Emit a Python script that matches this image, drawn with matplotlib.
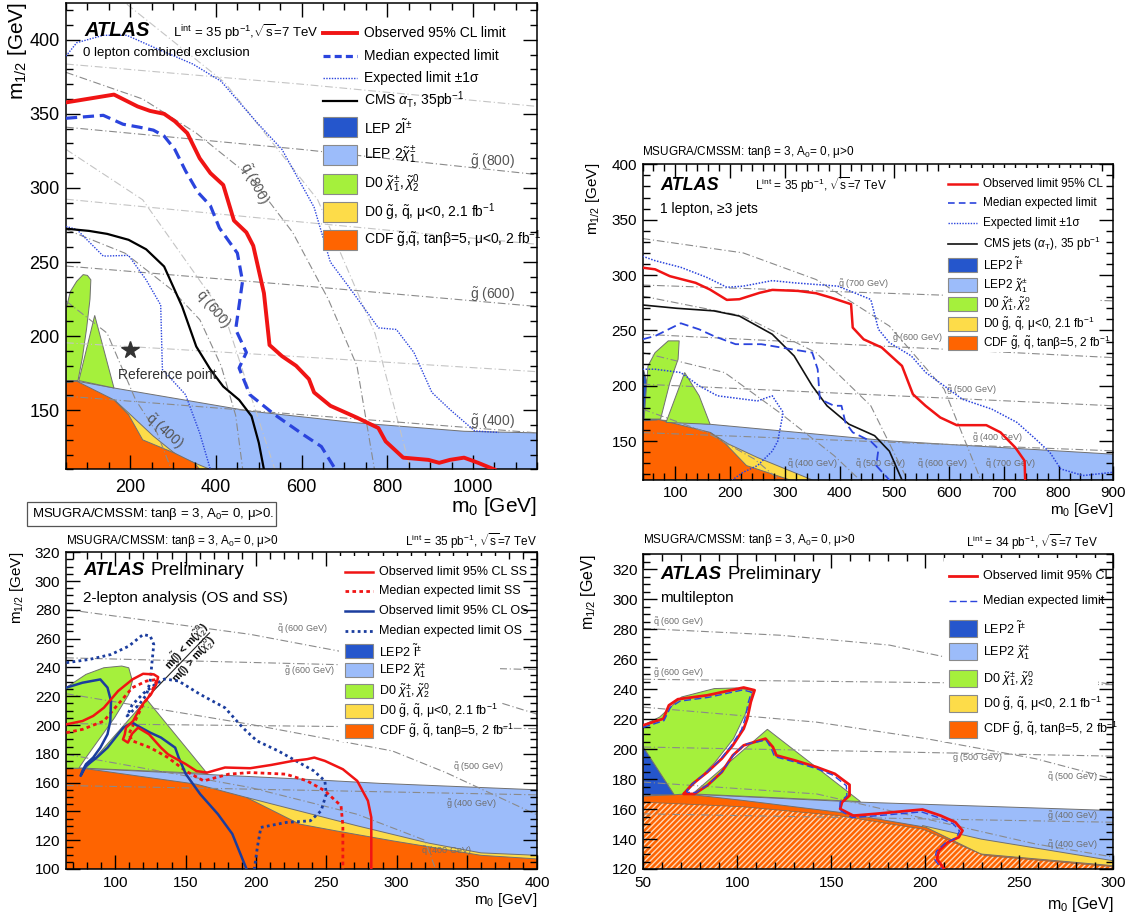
import matplotlib
matplotlib.use('Agg')
import matplotlib.pyplot as plt
from matplotlib.lines import Line2D
from matplotlib.patches import Rectangle
from matplotlib.ticker import MultipleLocator

plt.rcParams['font.family'] = ['Liberation Sans', 'DejaVu Sans']
plt.rcParams['mathtext.fontset'] = 'custom'
plt.rcParams['mathtext.rm'] = 'Liberation Sans'
plt.rcParams['mathtext.it'] = 'Liberation Sans:italic'
plt.rcParams['mathtext.bf'] = 'Liberation Sans:bold'
plt.rcParams['mathtext.sf'] = 'Liberation Sans'
plt.rcParams['hatch.linewidth'] = 1.0

RED = '#f01414'
BLUE = '#2b44dd'
NAVY = '#1b3d9e'
SLEP = '#2556cc'
CHARG = '#9cbcfa'
GREEN = '#a5f03c'
YELLOW = '#fddc49'
ORANGE = '#fe6401'
ISO = '#8a8a8a'
ISO_LIGHT = '#c4c4c4'

# ---------------- 0 lepton (m0, m1/2) ----------------
p1_obs_m0 = [50, 162, 217, 246, 279, 304, 333, 362, 387, 417, 442, 471, 487, 512, 525, 554, 587, 617, 629,
             667, 729, 779, 796, 837, 896, 921, 946, 979, 1012, 1050]
p1_obs_m12 = [357.7, 363, 355, 352, 350, 345, 337, 320, 310, 302, 278, 270, 261, 229, 194, 186.5, 180, 171, 162,
              153, 145, 138, 129, 118, 116.5, 114.5, 116.5, 118, 114.5, 110]
p1_exp_m0 = [50, 137, 183, 221, 254, 279, 304, 329, 358, 387, 408, 450, 462, 446, 471, 454, 479, 537, 604, 646, 679]
p1_exp_m12 = [347, 349, 343, 341, 339, 335, 326, 311.5, 297, 288, 273, 256, 237, 204.5, 189, 178.5, 160.5, 147,
              133.5, 125.5, 110]
p1_up_m0 = [50, 75, 137, 192, 254, 346, 412, 496, 554, 629, 667, 721, 779, 821, 862, 904, 946, 1004, 1060]
p1_up_m12 = [389, 398, 403, 403, 395, 383.6, 372, 344, 326, 287, 250, 229, 205.6, 204.5, 189, 162, 150.5, 136, 135]
p1_dn_m0 = [50, 75, 137, 196, 237, 271, 275, 329, 362, 387]
p1_dn_m12 = [274, 272, 254, 254.5, 238, 221, 177.5, 160.5, 134.7, 110]
p1_cms_m0 = [50, 104, 146, 196, 237, 279, 321, 354, 387, 417, 454, 483, 500, 512]
p1_cms_m12 = [272.5, 271, 269, 265, 258.6, 247, 220, 193, 177.5, 166, 157, 146, 128, 110]

p1_lep_m0 = [50, 75, 162, 479, 729, 979, 1150]
p1_lep_m12 = [170, 169.6, 165, 149.4, 141.5, 135.8, 134.7]
p1_d0gq_m0 = [162, 196, 254, 312, 387]
p1_d0gq_m12 = [157.2, 148.2, 132.5, 119, 110]
p1_cdf_m0 = [50, 75, 162, 196, 229, 304, 350, 362]
p1_cdf_m12 = [168.5, 169.6, 157, 147, 130, 121, 114.4, 110]
p1_slep_m0 = [50, 68, 50]
p1_slep_m12 = [205, 170, 170]
p1_d0a_m0 = [50, 50, 60, 75, 90, 100, 108, 106, 98, 88, 78]
p1_d0a_m12 = [170, 218, 230, 237, 241.5, 241, 238, 225, 205, 185, 170]
p1_d0b_m0 = [80, 117, 162]
p1_d0b_m12 = [170, 214, 165]

p1_gl_m0 = [50, 600, 1150]
p1_gl800 = [341, 326, 309]
p1_gl600 = [247.3, 234, 220]
p1_gl400 = [159.5, 147, 134.7]
p1_light_h1 = [383.6, 370, 355]
p1_light_h2 = [292.4, 277, 262]
p1_light_h3 = [195.5, 186, 176]
p1_sq800_m0 = [50, 229, 354, 479, 579, 662, 729, 770]
p1_sq800_m12 = [378, 360, 337, 308, 270, 225, 180, 110]
p1_sq600_m0 = [50, 187.5, 296, 362.5, 412, 446, 462.5]
p1_sq600_m12 = [272, 256, 231.5, 211, 180, 146.5, 110]
p1_sq400_m0 = [50, 146, 212.5, 262.5, 296]
p1_sq400_m12 = [223.7, 202, 157, 134.7, 110]
p1_sqa_m0 = [192, 421, 637.5, 771, 854]
p1_sqa_m12 = [424, 371, 292, 202, 110]
p1_sqb_m0 = [50, 229, 421, 537.5]
p1_sqb_m12 = [326, 292, 213.5, 110]
p1_ref = (200, 190.5)

# ---------------- 1 lepton ----------------
p2_obs_m0 = [40, 63, 90, 137, 163, 194, 217, 254, 277, 324, 357, 384, 421, 424, 444, 477, 514, 534, 557, 584,
             614, 668, 694, 721, 738, 739]
p2_obs_m12 = [306.7, 305.2, 299, 293, 287, 277.6, 278.2, 284, 286.6, 285.7, 283.6, 279.7, 273.7, 252.6, 242,
              234.6, 218, 192.4, 182, 171.4, 164.5, 164.5, 158, 144.3, 132.3, 115]
p2_exp_m0 = [40, 63, 110, 143.5, 170, 210, 257, 304, 350, 360, 364, 390, 403.5, 410.6, 424, 457, 471, 467, 491]
p2_exp_m12 = [242, 245, 256.5, 251, 245, 237.6, 237.6, 233.7, 230, 215, 188, 182, 182, 167, 158, 150, 143, 128, 115]
p2_up_m0 = [40, 63, 110, 157, 194, 224, 277, 317, 397, 457, 471, 491, 531, 557.5, 591, 624, 678, 724, 758, 784,
            804, 844.5, 900]
p2_up_m12 = [317, 313, 307, 298, 289, 290, 295, 293, 290, 278, 251, 239, 227, 212, 200, 188, 179, 167, 152, 140,
             125, 119, 122]
p2_dn_m0 = [40, 63, 110, 143.5, 177, 250, 277, 297, 287, 277, 250, 224, 204]
p2_dn_m12 = [215, 215, 212, 200, 191, 186.4, 191, 176, 150, 141, 128, 122, 115]
p2_cms_m0 = [40, 103, 170, 217, 277, 317, 350, 377, 417, 464, 491, 514]
p2_cms_m12 = [273, 270, 267.7, 263, 246.6, 227, 200, 182, 165.4, 155, 141, 115]

p2_lep_m0 = [40, 70, 163.5, 491, 900]
p2_lep_m12 = [169, 169.3, 165.3, 150.3, 138.3]
p2_d0gq_m0 = [163.5, 197, 250, 350.5]
p2_d0gq_m12 = [158, 147.5, 135.3, 115]
p2_cdf_m0 = [40, 70, 163.5, 190, 230, 310]
p2_cdf_m12 = [168.4, 169.5, 158, 148.5, 128, 115]
p2_slep_m0 = [40, 66.7, 40]
p2_slep_m12 = [218, 169.3, 169.3]
p2_d0a_m0 = [43, 50, 63, 87, 107, 105, 90, 73]
p2_d0a_m12 = [170, 218, 230, 240.6, 240.6, 224, 203, 170]
p2_d0b_m0 = [83, 117, 143.5, 163.5]
p2_d0b_m12 = [167, 212, 191, 165.3]

p2_gl_m0 = [40, 900]
p2_gl700 = [291, 276.7]
p2_gl600 = [246.6, 225.5]
p2_gl500 = [201.5, 182]
p2_gl400 = [157.8, 141.3]
p2_sq700_m0 = [40, 224, 357, 491, 591, 658]
p2_sq700_m12 = [333, 320, 296, 254, 197, 115]
p2_sq600_m0 = [40, 224, 357, 457, 524]
p2_sq600_m12 = [281, 263, 230, 182, 115]
p2_sq500_m0 = [40, 190, 290, 390, 437]
p2_sq500_m12 = [230, 212, 176, 137, 115]
p2_sq400_m0 = [40, 157, 244, 290]
p2_sq400_m12 = [179, 158, 134, 115]

# ---------------- 2 lepton ----------------
p3_ss_obs_m0 = [65.3, 76.7, 84.3, 91.9, 102, 112.2, 119.8, 127.4, 130.5, 129.2, 125.4, 120.3, 116.5, 112.7, 110.2,
                107.6, 106.8, 105.5, 109, 112, 116.2, 124, 132.5, 137.5, 150.2, 157.8, 165.4, 178, 195.9, 211,
                226.2, 236.4, 241.5, 249, 261.8, 272, 279.6, 282, 282]
p3_ss_obs_m12 = [200.5, 202.8, 206.3, 212, 223.6, 231.7, 235.6, 235.2, 233.3, 228.3, 221.3, 215.5, 209.8, 202.8,
                 200.5, 198.2, 193.6, 190, 187.8, 194, 198.2, 193.6, 184.3, 179.7, 172.8, 168, 167, 170.5, 170,
                 172.3, 175.1, 176.3, 177.4, 175.1, 169.3, 161.2, 147.4, 135.8, 100]
p3_ss_exp_m0 = [65.3, 76.7, 91.9, 102, 112.2, 122.3, 129.9, 124.9, 119.8, 109.6, 112.2, 124.9, 137.5, 150.2,
                162.9, 180.6, 195.9, 221.2, 236.4, 249, 260.5, 261.8, 261.8]
p3_ss_exp_m12 = [194.7, 197, 202.8, 214.4, 226, 230.6, 231.7, 221.3, 214.4, 193.6, 189, 184.3, 177.4, 168, 161.2,
                 165.9, 167, 165.9, 161.2, 154.3, 143.9, 130, 100]
p3_os_obs_m0 = [65.3, 76.7, 89.4, 94.5, 97, 96.5, 94.5, 89.4, 84.3, 79.2, 76.7, 75.4, 79.2, 86.8, 94.5, 102,
                105.8, 112.2, 116, 124.9, 132.5, 142.6, 145.1, 150.2, 160.4, 173, 183.2, 193.3]
p3_os_obs_m12 = [226, 229.4, 231.7, 226, 216.7, 202.8, 193.6, 184.3, 177.4, 172.8, 168.2, 164.7, 171.6, 177.4,
                 184.3, 193.6, 198.2, 201.7, 199.4, 194.7, 191.3, 184.3, 177.4, 165.9, 152, 138.1, 124.4, 100]
p3_os_exp_m0 = [65.3, 81.7, 96.9, 109.6, 119.8, 124.9, 127.4, 126.2, 124.9, 122.3, 117.2, 112.2, 108.4, 112, 120,
                128, 135, 145, 160.4, 178, 190.6, 200.7, 215.9, 228.5, 241.1, 249, 250, 246.3, 238.7, 221.2,
                203.5, 201, 198.9]
p3_os_exp_m12 = [243.3, 245.6, 249, 254.8, 262.9, 261.8, 256, 244.4, 230.6, 221.3, 214.4, 209.8, 206.3, 214, 222,
                 228, 232, 230.6, 221.3, 212, 198.2, 189, 182, 175.1, 168.2, 161.2, 152, 140.4, 133.5, 132.3,
                 128.9, 115, 100]
p3_div_m0 = [123.5, 167]
p3_div_m12 = [220, 264]

p3_lep_m0 = [65, 76.7, 160.4, 233.6, 288, 400]
p3_lep_m12 = [171, 170, 165.9, 162.4, 159.5, 155]
p3_d0gq_m0 = [193.3, 221.2, 272, 322.7, 360, 400]
p3_d0gq_m12 = [149.7, 142.7, 130, 118, 111.2, 109.5]
p3_cdf_m0 = [65, 76.7, 157.8, 193.3, 231, 256.3, 296.9, 360, 400]
p3_cdf_m12 = [170, 170, 158.9, 149.7, 131.2, 126.6, 119.6, 109.5, 107]
p3_slep_m0 = [65, 70.4, 65]
p3_slep_m12 = [182, 170, 170]
p3_d0a_m0 = [65, 65, 79.2, 91.9, 104.6, 109.6, 112.2, 109.6, 99.5, 89.4, 79.2, 74.1]
p3_d0a_m12 = [170, 226, 235.2, 239.8, 241, 239.8, 230.6, 221.3, 205.1, 191.3, 177.4, 170]
p3_d0b_m0 = [79.2, 122.3, 165.4]
p3_d0b_m12 = [170, 217.8, 166.3]

p3_sq600_m0 = [65, 196, 259, 339, 400]
p3_sq600_m12 = [280.3, 263, 251.4, 226, 207.5]
p3_gl_m0 = [65, 400]
p3_gl600 = [246.7, 238.5]
p3_gl500 = [201, 197.5]
p3_gl400 = [158, 151.5]
p3_sq500_m0 = [65, 196, 297, 335, 400]
p3_sq500_m12 = [221.8, 200.5, 182, 167, 137.5]
p3_sq400_m0 = [65.3, 196, 272, 320, 327.7]
p3_sq400_m12 = [179.7, 156.6, 138, 120, 100]

# ---------------- multilepton ----------------
p4_obs_m0 = [50, 60.7, 63.6, 68.4, 84, 103.4, 109.2, 107.2, 105.3, 103.4, 97.6, 91.7, 84, 76.2, 72.3, 71.4, 77.2,
             84, 91.7, 97.6, 103.4, 115, 118.9, 120.8, 130.5, 142.2, 151.9, 159.7, 159.7, 155.7, 154.7, 161.7,
             173.3, 198.5, 208.2, 216, 219.8, 217.8, 212, 207.2, 206.2, 210]
p4_obs_m12 = [215.9, 220.3, 229.2, 233.3, 235.9, 241.1, 239.3, 231.5, 220.3, 213.6, 202.5, 193.6, 184.6, 176.8,
              171.3, 170.1, 170.1, 175.7, 184.6, 195.8, 202.5, 207, 201.4, 195.8, 192.5, 188, 183.5, 176.2, 169,
              164.6, 160.1, 155.6, 156.8, 159.7, 155.6, 151.2, 145.6, 141.2, 137.8, 132.2, 126.7, 120]
p4_exp_m0 = [50, 61, 64.5, 69.5, 84.5, 103, 107.5, 105.8, 104, 102.2, 96.5, 90.8, 83.2, 75.8, 73, 73.5, 78, 84.6,
             92.2, 98.2, 104, 115.3, 118, 119.8, 130, 142, 151, 158, 158.3, 154.7, 154.5, 161, 173, 198, 207,
             214.8, 218.2, 216.5, 210.6, 205.9, 205, 208.7]
p4_exp_m12 = [214.5, 219, 228, 232, 234.5, 239.5, 238, 231, 219.8, 212.8, 201.8, 192.8, 184, 176.5, 172, 171.2,
              171, 176.4, 185.3, 196.4, 203.2, 206, 200.6, 195, 191.6, 187, 182.6, 175.6, 169, 164.6, 159.3, 154.3,
              155.4, 158.1, 154.3, 150.2, 145.4, 140.8, 137.3, 131.8, 126.3, 120]

p4_lep_m0 = [50, 72.3, 165.5, 300]
p4_lep_m12 = [169.5, 170.1, 164.6, 159]
p4_d0gq_m0 = [198.5, 229.5, 300]
p4_d0gq_m12 = [149, 140, 125.5]
p4_cdf_m0 = [50, 72.3, 103.4, 153.9, 200.4, 229.5, 300]
p4_cdf_m12 = [168.6, 170.1, 165.7, 157.9, 147.8, 130, 122.2]
p4_hatch_m0 = [50, 103.4, 154, 198.6, 231.5, 300]
p4_hatch_m12 = [164.6, 161.5, 155.6, 146.6, 129, 121.5]
p4_slep_m0 = [50, 66.5, 50]
p4_slep_m12 = [201.4, 169.5, 169.5]
p4_d0a_m0 = [50, 50, 58.7, 70.4, 87.8, 99.5, 108.2, 106, 98, 88, 78, 72, 66.5]
p4_d0a_m12 = [201.4, 216, 221.4, 234.8, 240.4, 240.8, 239.3, 228, 207, 191, 178, 170.1, 169.5]
p4_d0b_m0 = [76.2, 116, 165.5]
p4_d0b_m12 = [170.1, 213.2, 165]

p4_sq600_m0 = [50, 122.8, 181, 210, 300]
p4_sq600_m12 = [280.5, 276, 269.4, 261.6, 243]
p4_gl_m0 = [50, 300]
p4_gl600 = [246.6, 243]
p4_gl500 = [201.4, 195.3]
p4_gl400 = [156.8, 151.2]
p4_sq500_m0 = [50, 142.2, 200.4, 258.6, 300]
p4_sq500_m12 = [228, 218, 207, 193.6, 180]
p4_sq400_m0 = [50, 142.2, 200.4, 258.6, 300]
p4_sq400_m12 = [178, 170.1, 153.4, 136.7, 128]

W, H = 1133, 918
fig = plt.figure(figsize=(W / 100, H / 100), dpi=100)


def frame(L, T, R, B):
    return fig.add_axes([L / W, 1 - B / H, (R - L) / W, (B - T) / H])


def ftext(px, py, s, **kw):
    return fig.text(px / W, 1 - py / H, s, **kw)


def setup(ax, xlim, ylim, xmaj, xmin, ymaj, ymin, fs, xpad, ypad):
    ax.set_xlim(*xlim)
    ax.set_ylim(*ylim)
    ax.xaxis.set_major_locator(MultipleLocator(xmaj))
    ax.xaxis.set_minor_locator(MultipleLocator(xmin))
    ax.yaxis.set_major_locator(MultipleLocator(ymaj))
    ax.yaxis.set_minor_locator(MultipleLocator(ymin))
    ax.tick_params(which='both', direction='in', top=True, right=True, width=1.0)
    ax.tick_params(which='major', length=10)
    ax.tick_params(which='minor', length=5)
    ax.tick_params(axis='x', labelsize=fs, pad=xpad)
    ax.tick_params(axis='y', labelsize=fs, pad=ypad)
    for sp in ax.spines.values():
        sp.set_linewidth(1.1)


def region(ax, m0, m12, color, to_floor=True):
    xs, ys = list(m0), list(m12)
    if to_floor:
        y0 = ax.get_ylim()[0]
        xs += [m0[-1], m0[0]]
        ys += [y0, y0]
    ax.fill(xs, ys, facecolor=color, edgecolor='#707070', lw=0.7, zorder=1)


def iso(ax, x, y, light=False):
    ax.plot(x, y, color=ISO_LIGHT if light else ISO, lw=0.8, dashes=(7, 2.5, 1, 2.5), zorder=1.5)


def iso_label(ax, x, y, s, size, rot=0, ha='center', color='#6e6e6e'):
    ax.text(x, y, s, color=color, fontsize=size, rotation=rot, ha=ha, va='center', zorder=1.6)


def legend(rows, x0, x1, xt, ys, size, bh):
    for (kind, style, label), y in zip(rows, ys):
        if kind == 'line':
            fig.add_artist(Line2D([x0 / W, x1 / W], [1 - y / H] * 2, zorder=3, **style))
        else:
            fig.add_artist(Rectangle((x0 / W, 1 - (y + bh / 2) / H), (x1 - x0) / W, bh / H,
                                     facecolor=style, edgecolor='#8a8a8a', lw=0.8, zorder=3))
        ftext(xt, y, label, fontsize=size, va='center', zorder=4)


def white_box(L, T, R, B):
    fig.add_artist(Rectangle((L / W, 1 - B / H), (R - L) / W, (B - T) / H,
                             facecolor='white', edgecolor='none', zorder=2))


def regions_common(ax, d):
    region(ax, d['lep'][0], d['lep'][1], CHARG)
    region(ax, d['gq'][0], d['gq'][1], YELLOW)
    region(ax, d['cdf'][0], d['cdf'][1], ORANGE)
    region(ax, d['slep'][0], d['slep'][1], SLEP, to_floor=False)
    region(ax, d['d0a'][0], d['d0a'][1], GREEN, to_floor=False)
    region(ax, d['d0b'][0], d['d0b'][1], GREEN, to_floor=False)


box_rows_short = [
    ('box', SLEP, r'LEP2 $\tilde{\mathrm{l}}^{\pm}$'),
    ('box', CHARG, r'LEP2 $\tilde{\chi}_1^{\pm}$'),
    ('box', GREEN, r'D0 $\tilde{\chi}_1^{\pm}, \tilde{\chi}_2^{0}$'),
    ('box', YELLOW, r'D0 $\tilde{\mathrm{g}}$, $\tilde{\mathrm{q}}$, μ<0, 2.1 fb$^{-1}$'),
    ('box', ORANGE, r'CDF $\tilde{\mathrm{g}}$, $\tilde{\mathrm{q}}$, tanβ=5, 2 fb$^{-1}$'),
]
MSUGRA = r'MSUGRA/CMSSM: tanβ = 3, A$_0$= 0, μ>0'
G = r'$\tilde{\mathrm{g}}$'
Q = r'$\tilde{\mathrm{q}}$'

# ======== panel 1: 0 lepton ========
ax1 = frame(66, 2.7, 537.3, 469.5)
setup(ax1, (50, 1150), (110, 425), 200, 50, 50, 10, 13, 7, 4.5)
regions_common(ax1, {'lep': (p1_lep_m0, p1_lep_m12), 'gq': (p1_d0gq_m0, p1_d0gq_m12),
                     'cdf': (p1_cdf_m0, p1_cdf_m12), 'slep': (p1_slep_m0, p1_slep_m12),
                     'd0a': (p1_d0a_m0, p1_d0a_m12), 'd0b': (p1_d0b_m0, p1_d0b_m12)})
for yy in (p1_light_h1, p1_light_h2, p1_light_h3):
    iso(ax1, p1_gl_m0, yy, light=True)
iso(ax1, p1_sqa_m0, p1_sqa_m12, light=True)
iso(ax1, p1_sqb_m0, p1_sqb_m12, light=True)
for yy in (p1_gl800, p1_gl600, p1_gl400):
    iso(ax1, p1_gl_m0, yy)
iso(ax1, p1_sq800_m0, p1_sq800_m12)
iso(ax1, p1_sq600_m0, p1_sq600_m12)
iso(ax1, p1_sq400_m0, p1_sq400_m12)
iso_label(ax1, 1046, 318, G + ' (800)', 10, color='#555555')
iso_label(ax1, 1046, 228, G + ' (600)', 10, color='#555555')
iso_label(ax1, 1046, 142.6, G + ' (400)', 10, color='#555555')
iso_label(ax1, 488, 303, Q + ' (800)', 10, rot=-62, color='#555555')
iso_label(ax1, 392, 218, Q + ' (600)', 10, rot=-50, color='#555555')
iso_label(ax1, 279, 136, Q + ' (400)', 10, rot=-42, color='#555555')
ax1.plot(p1_up_m0, p1_up_m12, color=BLUE, lw=1.0, ls=(0, (1, 1)), zorder=3)
ax1.plot(p1_dn_m0, p1_dn_m12, color=BLUE, lw=1.0, ls=(0, (1, 1)), zorder=3)
ax1.plot(p1_cms_m0, p1_cms_m12, color='black', lw=1.6, zorder=3)
ax1.plot(p1_exp_m0, p1_exp_m12, color=BLUE, lw=2.3, dashes=(3.5, 1.8), zorder=3)
ax1.plot(p1_obs_m0, p1_obs_m12, color=RED, lw=2.8, zorder=3)
ax1.plot(*p1_ref, marker='*', color='#333333', ms=13, zorder=4)
ax1.text(171, 173.5, 'Reference point', fontsize=10, color='#333333', va='center')
ax1.text(0.038, 0.9415, 'ATLAS', transform=ax1.transAxes, fontsize=14.5, weight='bold', style='italic', va='center')
ax1.text(0.227, 0.937, r'L$^{\mathrm{int}}$ = 35 pb$^{-1}$,$\sqrt{\mathrm{s}}$=7 TeV', transform=ax1.transAxes,
         fontsize=9.5, va='center')
ax1.text(0.036, 0.892, '0 lepton combined exclusion', transform=ax1.transAxes, fontsize=9.5, va='center')
legend([('line', dict(color=RED, lw=2.8), 'Observed 95% CL limit'),
        ('line', dict(color=BLUE, lw=2.3, dashes=(2.2, 1.3)), 'Median expected limit'),
        ('line', dict(color=BLUE, lw=1.0, ls=(0, (1, 1))), 'Expected limit ±1σ'),
        ('line', dict(color='black', lw=1.6), r'CMS $\alpha_{\mathrm{T}}$, 35pb$^{-1}$'),
        ('box', SLEP, r'LEP 2$\tilde{\mathrm{l}}^{\pm}$'),
        ('box', CHARG, r'LEP 2$\tilde{\chi}_1^{\pm}$'),
        ('box', GREEN, r'D0 $\tilde{\chi}_1^{\pm}, \tilde{\chi}_2^{0}$'),
        ('box', YELLOW, r'D0 $\tilde{\mathrm{g}}$, $\tilde{\mathrm{q}}$, μ<0, 2.1 fb$^{-1}$'),
        ('box', ORANGE, r'CDF $\tilde{\mathrm{g}}$,$\tilde{\mathrm{q}}$, tanβ=5, μ<0, 2 fb$^{-1}$')],
       323, 357, 363.6, [33.3, 55.7, 78.3, 100.7, 127.3, 155.3, 183.7, 212, 239.7], 10, 20)
ftext(537.3, 507, r'm$_0$ [GeV]', fontsize=15, ha='right', va='center')
ftext(18, 2, r'm$_{1/2}$ [GeV]', fontsize=15, rotation=90, ha='center', va='top')
fig.add_artist(Rectangle((26.7 / W, 1 - 526 / H), (276 - 26.7) / W, 24.3 / H, facecolor='white',
                         edgecolor='#555555', lw=0.9))
ftext(31.7, 513.5, MSUGRA + '.', fontsize=9.5, va='center')

# ======== panel 2: 1 lepton ========
ax2 = frame(642.5, 164.3, 1113.3, 480)
setup(ax2, (40, 900), (115, 400), 100, 20, 50, 10, 11, 4.5, 4)
regions_common(ax2, {'lep': (p2_lep_m0, p2_lep_m12), 'gq': (p2_d0gq_m0, p2_d0gq_m12),
                     'cdf': (p2_cdf_m0, p2_cdf_m12), 'slep': (p2_slep_m0, p2_slep_m12),
                     'd0a': (p2_d0a_m0, p2_d0a_m12), 'd0b': (p2_d0b_m0, p2_d0b_m12)})
for yy in (p2_gl700, p2_gl600, p2_gl500, p2_gl400):
    iso(ax2, p2_gl_m0, yy)
iso(ax2, p2_sq700_m0, p2_sq700_m12)
iso(ax2, p2_sq600_m0, p2_sq600_m12)
iso(ax2, p2_sq500_m0, p2_sq500_m12)
iso(ax2, p2_sq400_m0, p2_sq400_m12)
for x, y, s in [(444, 291.7, G + ' (700 GeV)'), (541, 243, G + ' (600 GeV)'), (641, 196.4, G + ' (500 GeV)'),
                (688, 152.4, G + ' (400 GeV)'), (350, 129.3, Q + ' (400 GeV)'), (474, 129.3, Q + ' (500 GeV)'),
                (587, 129.3, Q + ' (600 GeV)'), (711, 129.3, Q + ' (700 GeV)')]:
    iso_label(ax2, x, y, s, 6.5)
ax2.plot(p2_up_m0, p2_up_m12, color=BLUE, lw=1.1, ls=(0, (1, 1)), zorder=3)
ax2.plot(p2_dn_m0, p2_dn_m12, color=BLUE, lw=1.1, ls=(0, (1, 1)), zorder=3)
ax2.plot(p2_cms_m0, p2_cms_m12, color='#111111', lw=1.2, zorder=3)
ax2.plot(p2_exp_m0, p2_exp_m12, color=BLUE, lw=1.3, dashes=(5, 2.5), zorder=3)
ax2.plot(p2_obs_m0, p2_obs_m12, color=RED, lw=1.8, zorder=3)
ax2.text(0.037, 0.934, 'ATLAS', transform=ax2.transAxes, fontsize=13, weight='bold', style='italic', va='center')
ax2.text(0.24, 0.934, r'L$^{\mathrm{int}}$ = 35 pb$^{-1}$, $\sqrt{\mathrm{s}}$=7 TeV', transform=ax2.transAxes,
         fontsize=8.5, va='center')
ax2.text(0.037, 0.857, '1 lepton, ≥3 jets', transform=ax2.transAxes, fontsize=10, va='center')
white_box(943, 168, 1099, 352)
legend([('line', dict(color=RED, lw=1.8), 'Observed limit 95% CL'),
        ('line', dict(color=BLUE, lw=1.2, dashes=(4, 2.5)), 'Median expected limit'),
        ('line', dict(color=BLUE, lw=1.0, ls=(0, (1, 1))), 'Expected limit ±1σ'),
        ('line', dict(color='#111111', lw=1.2), r'CMS jets ($\alpha_{\mathrm{T}}$), 35 pb$^{-1}$')] + box_rows_short,
       948, 976.7, 983.3, [184, 202.7, 223.3, 244, 265, 285, 304, 324, 343.3], 8.5, 14)
ftext(642.5, 151.7, MSUGRA, fontsize=8.5, va='center')
ftext(1113.3, 510, r'm$_0$ [GeV]', fontsize=11, ha='right', va='center')
ftext(593, 163, r'm$_{1/2}$ [GeV]', fontsize=11, rotation=90, ha='center', va='top')

# ======== panel 3: 2 lepton ========
ax3 = frame(66, 552.3, 537.3, 869)
setup(ax3, (65, 400), (100, 320), 50, 10, 20, 5, 11, 5, 4)
regions_common(ax3, {'lep': (p3_lep_m0, p3_lep_m12), 'gq': (p3_d0gq_m0, p3_d0gq_m12),
                     'cdf': (p3_cdf_m0, p3_cdf_m12), 'slep': (p3_slep_m0, p3_slep_m12),
                     'd0a': (p3_d0a_m0, p3_d0a_m12), 'd0b': (p3_d0b_m0, p3_d0b_m12)})
for yy in (p3_gl600, p3_gl500, p3_gl400):
    iso(ax3, p3_gl_m0, yy)
iso(ax3, p3_sq600_m0, p3_sq600_m12)
iso(ax3, p3_sq500_m0, p3_sq500_m12)
iso(ax3, p3_sq400_m0, p3_sq400_m12)
for x, y, s in [(232.6, 266.4, Q + ' (600 GeV)'), (237.7, 237.5, G + ' (600 GeV)'), (358, 171, Q + ' (500 GeV)'),
                (353, 145, G + ' (400 GeV)'), (335, 112.7, Q + ' (400 GeV)')]:
    iso_label(ax3, x, y, s, 6.5)
ax3.plot(p3_div_m0, p3_div_m12, color='#222222', lw=0.8, zorder=3)
ax3.text(150.8, 254.4, r'm($\tilde{\mathrm{l}}$) < m($\tilde{\chi}_2^0$)', rotation=48, fontsize=7.5,
         weight='bold', ha='center', va='center', rotation_mode='anchor')
ax3.text(155.5, 245.7, r'm($\tilde{\mathrm{l}}$) > m($\tilde{\chi}_2^0$)', rotation=48, fontsize=7.5,
         weight='bold', ha='center', va='center', rotation_mode='anchor')
ax3.plot(p3_os_exp_m0, p3_os_exp_m12, color=NAVY, lw=2.0, ls=(0, (1, 1.2)), zorder=3)
ax3.plot(p3_ss_exp_m0, p3_ss_exp_m12, color=RED, lw=2.0, ls=(0, (1.3, 1.2)), zorder=3)
ax3.plot(p3_os_obs_m0, p3_os_obs_m12, color=NAVY, lw=1.8, zorder=3)
ax3.plot(p3_ss_obs_m0, p3_ss_obs_m12, color=RED, lw=1.8, zorder=3)
ax3.text(0.036, 0.944, 'ATLAS', transform=ax3.transAxes, fontsize=13.5, weight='bold', style='italic', va='center')
ax3.text(0.18, 0.944, 'Preliminary', transform=ax3.transAxes, fontsize=13.5, va='center')
ax3.text(0.036, 0.855, '2-lepton analysis (OS and SS)', transform=ax3.transAxes, fontsize=11, va='center')
white_box(339, 556, 500, 742)
legend([('line', dict(color=RED, lw=1.8), 'Observed limit 95% CL SS'),
        ('line', dict(color=RED, lw=2.0, ls=(0, (1.3, 1.2))), 'Median expected limit SS'),
        ('line', dict(color=NAVY, lw=1.8), 'Observed limit 95% CL OS'),
        ('line', dict(color=NAVY, lw=2.0, ls=(0, (1, 1.2))), 'Median expected limit OS')] + box_rows_short,
       344.6, 372.5, 378.6, [572.2, 590.8, 611.4, 630.7, 651.4, 670.3, 690.6, 711.2, 731.2], 9, 14)
ftext(66, 540.7, MSUGRA, fontsize=8.5, va='center')
ftext(537.3, 540.7, r'L$^{\mathrm{int}}$ = 35 pb$^{-1}$, $\sqrt{\mathrm{s}}$=7 TeV', fontsize=8.5,
      ha='right', va='center')
ftext(537.3, 900, r'm$_0$ [GeV]', fontsize=11, ha='right', va='center')
ftext(17, 552, r'm$_{1/2}$ [GeV]', fontsize=11, rotation=90, ha='center', va='top')

# ======== panel 4: multilepton ========
ax4 = frame(643.3, 554.3, 1113.3, 869)
setup(ax4, (50, 300), (120, 330), 50, 10, 20, 5, 11, 5, 4)
region(ax4, p4_lep_m0, p4_lep_m12, CHARG)
region(ax4, p4_d0gq_m0, p4_d0gq_m12, YELLOW)
region(ax4, p4_cdf_m0, p4_cdf_m12, ORANGE)
hx = p4_hatch_m0 + [p4_hatch_m0[-1], p4_hatch_m0[0]]
hy = p4_hatch_m12 + [120, 120]
ax4.fill(hx, hy, facecolor='none', edgecolor='#ffd9b8', hatch='//////', lw=0, zorder=1.1)
ax4.plot(p4_hatch_m0, p4_hatch_m12, color='#8a6a50', lw=0.6, zorder=1.2)
region(ax4, p4_slep_m0, p4_slep_m12, SLEP, to_floor=False)
region(ax4, p4_d0a_m0, p4_d0a_m12, GREEN, to_floor=False)
region(ax4, p4_d0b_m0, p4_d0b_m12, GREEN, to_floor=False)
for yy in (p4_gl600, p4_gl500, p4_gl400):
    iso(ax4, p4_gl_m0, yy)
iso(ax4, p4_sq600_m0, p4_sq600_m12)
iso(ax4, p4_sq500_m0, p4_sq500_m12)
iso(ax4, p4_sq400_m0, p4_sq400_m12)
iso_label(ax4, 55, 285, Q + ' (600 GeV)', 6.5, ha='left')
iso_label(ax4, 55, 251, G + ' (600 GeV)', 6.5, ha='left')
iso_label(ax4, 227.6, 194.2, G + ' (500 GeV)', 6.5)
iso_label(ax4, 278, 181.3, Q + ' (500 GeV)', 6.5)
iso_label(ax4, 278, 155.6, G + ' (400 GeV)', 6.5)
iso_label(ax4, 278, 136.2, Q + ' (400 GeV)', 6.5)
ax4.plot(p4_obs_m0, p4_obs_m12, color=RED, lw=2.0, zorder=3)
ax4.plot(p4_exp_m0, p4_exp_m12, color=BLUE, lw=1.0, dashes=(5, 2.5), zorder=3.1)
ax4.text(0.0366, 0.936, 'ATLAS', transform=ax4.transAxes, fontsize=13.5, weight='bold', style='italic', va='center')
ax4.text(0.179, 0.936, 'Preliminary', transform=ax4.transAxes, fontsize=13.5, va='center')
ax4.text(0.0366, 0.86, 'multilepton', transform=ax4.transAxes, fontsize=11, va='center')
white_box(944, 558, 1098, 742)
legend([('line', dict(color=RED, lw=2.0), 'Observed limit 95% CL'),
        ('line', dict(color=BLUE, lw=1.0, dashes=(5, 2.5)), 'Median expected limit')] + box_rows_short,
       949.3, 976.7, 983.2, [576, 601, 628.5, 651.9, 678.6, 703.7, 729.4], 9, 17)
ftext(643.3, 540, MSUGRA, fontsize=8.5, va='center')
ftext(1098, 541.7, r'L$^{\mathrm{int}}$ = 34 pb$^{-1}$, $\sqrt{\mathrm{s}}$=7 TeV', fontsize=8.5,
      ha='right', va='center')
ftext(1113.3, 904, r'm$_0$ [GeV]', fontsize=11.5, ha='right', va='center')
ftext(589, 554, r'm$_{1/2}$ [GeV]', fontsize=11.5, rotation=90, ha='center', va='top')

fig.savefig('out.png', dpi=100)
